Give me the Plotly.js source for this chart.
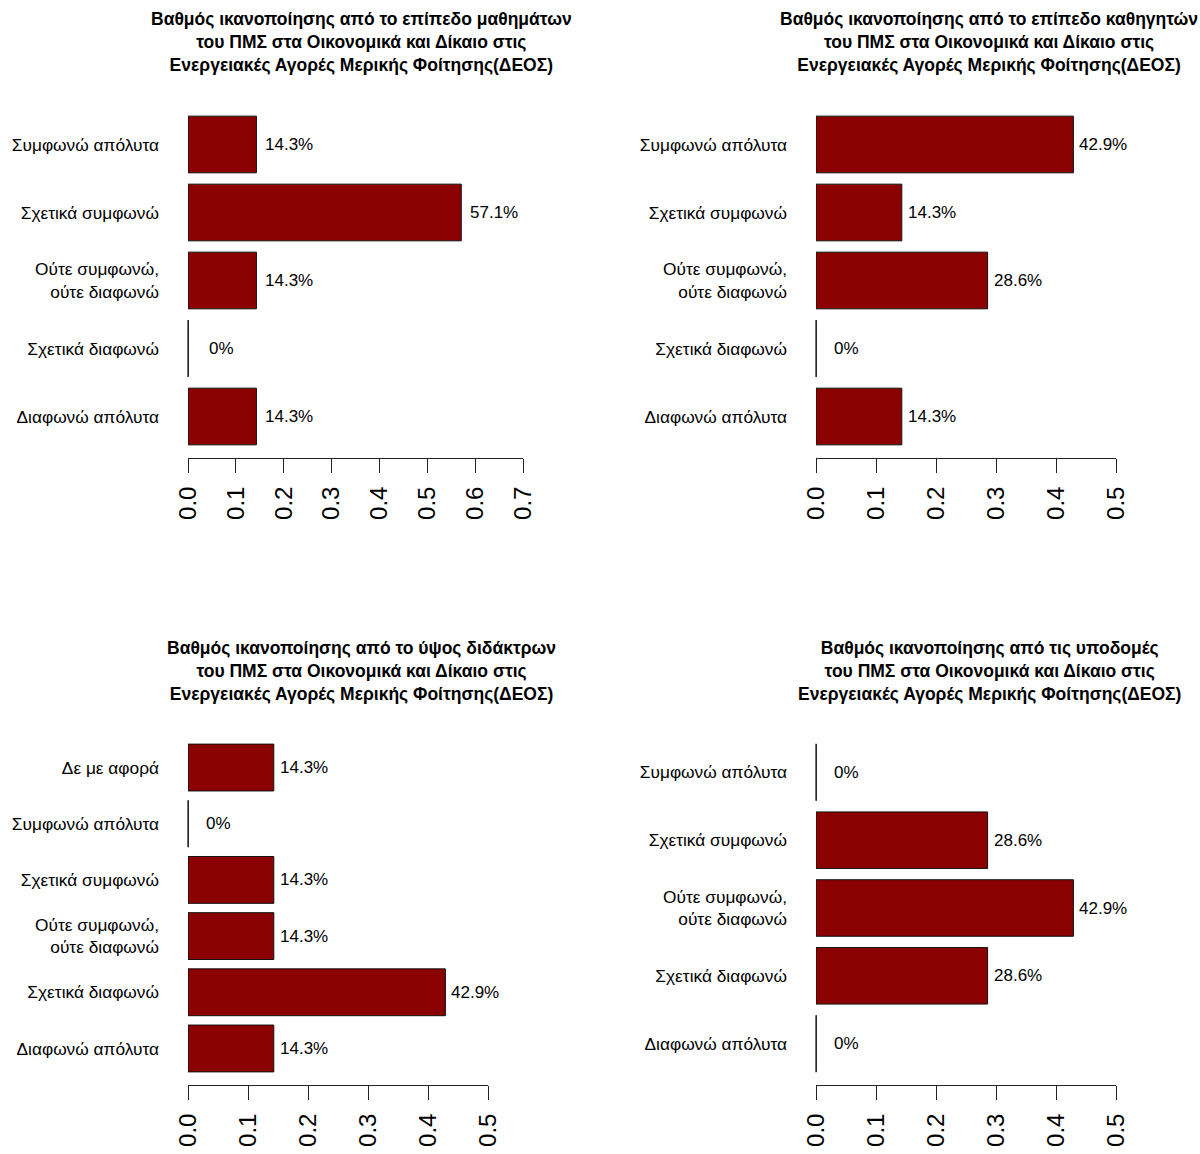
<!DOCTYPE html>
<html>
<head>
<meta charset="utf-8">
<script src="https://cdn.plot.ly/plotly-3.0.1.min.js"></script>
<style>html,body{margin:0;padding:0;background:#fff;}#chart{width:1200px;height:1154px;}</style>
</head>
<body>
<div id="chart"></div>
<script>
// ---------- data ----------
const catsFive = ["Συμφωνώ απόλυτα", "Σχετικά συμφωνώ", "Ούτε συμφωνώ,<br>ούτε διαφωνώ", "Σχετικά διαφωνώ", "Διαφωνώ απόλυτα"];
const catsSix = ["Δε με αφορά", "Συμφωνώ απόλυτα", "Σχετικά συμφωνώ", "Ούτε συμφωνώ,<br>ούτε διαφωνώ", "Σχετικά διαφωνώ", "Διαφωνώ απόλυτα"];

const valuesCourses = [14.3, 57.1, 14.3, 0, 14.3];
const valuesProfessors = [42.9, 14.3, 28.6, 0, 14.3];
const valuesFees = [14.3, 0, 14.3, 14.3, 42.9, 14.3];
const valuesFacilities = [0, 28.6, 42.9, 28.6, 0];

const titleTail = "<br>του ΠΜΣ στα Οικονομικά και Δίκαιο στις<br>Ενεργειακές Αγορές Μερικής Φοίτησης(ΔΕΟΣ)";
const titleCourses = "Βαθμός ικανοποίησης από το επίπεδο μαθημάτων" + titleTail;
const titleProfessors = "Βαθμός ικανοποίησης από το επίπεδο καθηγητών" + titleTail;
const titleFees = "Βαθμός ικανοποίησης από το ύψος διδάκτρων" + titleTail;
const titleFacilities = "Βαθμός ικανοποίησης από τις υποδομές" + titleTail;

const axisMaxCourses = 0.7;
const axisMaxOthers = 0.5;

// ---------- layout / styling ----------
const FONT = "Liberation Sans, Arial, Helvetica, sans-serif";
const W = 1200, H = 1154;
const panels = [
  {cats: catsFive, vals: valuesCourses, title: titleCourses, xmax: axisMaxCourses,
   xpx: [188, 523], ypx: [103, 458], titleX: 361, titleY: 42, shift: 33, zeroLen: 57},
  {cats: catsFive, vals: valuesProfessors, title: titleProfessors, xmax: axisMaxOthers,
   xpx: [816, 1116], ypx: [103, 458], titleX: 989, titleY: 42, shift: 30, zeroLen: 57},
  {cats: catsSix, vals: valuesFees, title: titleFees, xmax: axisMaxOthers,
   xpx: [188, 488], ypx: [731, 1085], titleX: 361, titleY: 671, shift: 30, zeroLen: 47},
  {cats: catsFive, vals: valuesFacilities, title: titleFacilities, xmax: axisMaxOthers,
   xpx: [816, 1116], ypx: [731, 1085], titleX: 989, titleY: 671, shift: 30, zeroLen: 57}
];

const traces = [];
const annotations = [];
const layout = {
  width: W, height: H,
  margin: {l: 0, r: 0, t: 0, b: 0},
  paper_bgcolor: "#ffffff", plot_bgcolor: "#ffffff",
  showlegend: false,
  bargap: 1 - 1 / 1.2,
  font: {family: FONT, color: "#000", size: 17},
  annotations: annotations
};

const fmt = v => v === 0 ? "0%" : v.toFixed(1) + "%";

panels.forEach((p, i) => {
  const k = i + 1;
  const xa = "x" + (k === 1 ? "" : k), ya = "y" + (k === 1 ? "" : k);
  const xs = p.vals.map(v => v / 100);
  const n = p.cats.length;
  const e = (0.5 + 0.04 * (1.2 * n - 0.2)) / 1.2;

  traces.push({
    type: "bar", orientation: "h",
    x: xs, y: p.cats, xaxis: xa, yaxis: ya,
    marker: {color: "#8B0000", line: {color: "#111", width: 1}},
    cliponaxis: false, hoverinfo: "skip"
  });
  // zero-valued bars are drawn by R as a thin vertical border line
  const zc = p.cats.filter((c, j) => p.vals[j] === 0);
  const zx = p.vals.filter(v => v === 0).map(v => v / 100);
  traces.push({
    type: "scatter", mode: "markers",
    x: zx, y: zc, xaxis: xa, yaxis: ya,
    marker: {symbol: "line-ns", size: p.zeroLen / 1.4, color: "#111", line: {color: "#111", width: 1.2}},
    cliponaxis: false, hoverinfo: "skip"
  });

  layout["xaxis" + (k === 1 ? "" : k)] = {
    domain: [p.xpx[0] / W, p.xpx[1] / W],
    anchor: ya,
    range: [0, p.xmax],
    tick0: 0, dtick: 0.1, tickformat: ".1f",
    showline: true, linecolor: "#222", linewidth: 1,
    ticks: "outside", ticklen: 14, tickwidth: 1, tickcolor: "#222",
    tickangle: -90, ticklabelstandoff: 4,
    tickfont: {family: FONT, size: 24, color: "#000"},
    showgrid: false, zeroline: false, fixedrange: true
  };
  layout["yaxis" + (k === 1 ? "" : k)] = {
    domain: [1 - p.ypx[1] / H, 1 - p.ypx[0] / H],
    anchor: xa,
    type: "category", categoryorder: "array", categoryarray: p.cats,
    range: [n - 1 + e, -e],
    showline: false, ticks: "", showgrid: false, zeroline: false,
    ticklabelstandoff: 28,
    tickfont: {family: FONT, size: 17.3, color: "#000"},
    fixedrange: true
  };

  p.vals.forEach((v, j) => {
    annotations.push({
      xref: xa, yref: ya, x: v / 100, y: p.cats[j],
      text: fmt(v), showarrow: false, xanchor: "center", yanchor: "middle",
      xshift: p.shift, font: {family: FONT, size: 17, color: "#000"}
    });
  });
  annotations.push({
    xref: "paper", yref: "paper", x: p.titleX / W, y: 1 - p.titleY / H,
    text: "<b>" + p.title + "</b>", showarrow: false,
    xanchor: "center", yanchor: "middle", align: "center",
    font: {family: FONT, size: 17.5, color: "#000"}
  });
});

Plotly.newPlot("chart", traces, layout, {displayModeBar: false, staticPlot: true});
</script>
</body>
</html>
